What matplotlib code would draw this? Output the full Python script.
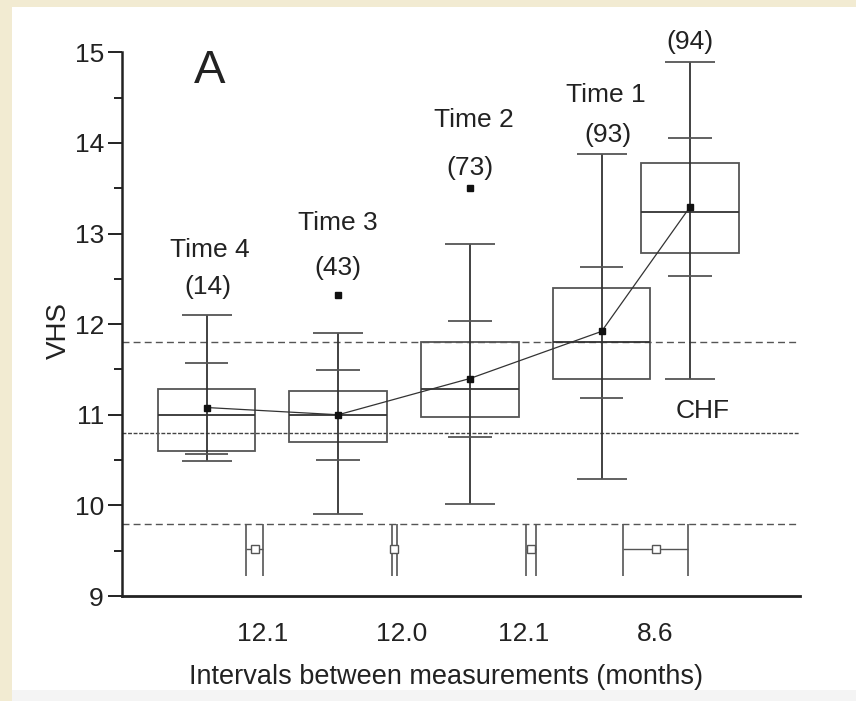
import matplotlib
matplotlib.use("Agg")
import matplotlib.pyplot as plt
from matplotlib.patches import Rectangle
from matplotlib.ticker import MultipleLocator

plt.rcParams['font.family'] = ['Liberation Sans', 'DejaVu Sans']

# ---------------- data ----------------
box_pos   = [1.0, 2.0, 3.0, 4.0, 4.67]
whisk_lo  = [10.49, 9.91, 10.01, 10.29, 11.39]
inner_lo  = [10.57, 10.50, 10.75, 11.18, 12.53]
q1        = [10.60, 10.70, 10.98, 11.39, 12.79]
median    = [11.00, 11.00, 11.28, 11.80, 13.24]
q3        = [11.28, 11.26, 11.80, 12.40, 13.78]
inner_hi  = [11.57, 11.49, 12.04, 12.63, 14.05]
whisk_hi  = [12.10, 11.90, 12.89, 13.88, 14.89]
means     = [11.08, 11.00, 11.40, 11.92, 13.29]
outlier_x = [2.0, 3.0]
outlier_y = [12.32, 13.50]

time_labels = ['Time 4', 'Time 3', 'Time 2', 'Time 1']
n_labels    = ['(14)', '(43)', '(73)', '(93)', '(94)']

interval_center = [1.366, 2.425, 3.464, 4.412]
interval_half   = [0.066, 0.019, 0.039, 0.247]
interval_labels = ['12.1', '12.0', '12.1', '8.6']

ref_lines = [11.8, 10.8, 9.8]

# ---------------- layout ----------------
time_label_x = [1.027, 1.996, 3.03, 4.03]
time_label_y = [12.82, 13.12, 14.25, 14.53]
n_label_x    = [1.01, 2.0, 3.0, 4.05, 4.67]
n_label_y    = [12.41, 12.62, 13.72, 14.09, 15.11]
tick_pos     = [1.425, 2.484, 3.410, 4.405]
interval_y   = 9.52
interval_cap = (9.22, 9.80)

FS = 19
dark = '#222222'

fig = plt.figure(figsize=(8.56, 7.01), dpi=100, facecolor='#f2ebd2')
fig.patches.append(Rectangle((12/856, 0), 1, 694/701, transform=fig.transFigure,
                             facecolor='white', edgecolor='none', zorder=-10))
fig.patches.append(Rectangle((12/856, 0), 1, 11/701, transform=fig.transFigure,
                             facecolor='#f4f4f4', edgecolor='none', zorder=-9))

ax = fig.add_axes([122/856, 105/701, 678/856, 543.7/701])
ax.set_facecolor('none')
ax.set_xlim(0.358, 5.507)
ax.set_ylim(9, 15)

for s in ['top', 'right']:
    ax.spines[s].set_visible(False)
ax.spines['left'].set_linewidth(1.8)
ax.spines['bottom'].set_linewidth(2.0)
ax.spines['left'].set_color(dark)
ax.spines['bottom'].set_color(dark)

# reference dashed lines
ax.axhline(ref_lines[0], color='#555555', lw=1.0, dashes=(5, 3))
ax.axhline(ref_lines[1], color='#444444', lw=1.0, dashes=(2.8, 1.2))
ax.axhline(ref_lines[2], color='#555555', lw=1.0, dashes=(5, 3))

box_w = 0.74
outer_cap = 0.38
inner_cap = 0.33
edge = '#555555'

ax.bar(box_pos, [b - a for a, b in zip(q1, q3)], bottom=q1, width=box_w,
       fill=False, edgecolor=edge, linewidth=1.3, zorder=2)
ax.hlines(median, [p - box_w/2 for p in box_pos], [p + box_w/2 for p in box_pos],
          color='#333333', lw=1.3, zorder=3)
ax.vlines(box_pos, whisk_lo, whisk_hi, color='#333333', lw=1.3, zorder=3)
for vals, w in [(whisk_lo, outer_cap), (whisk_hi, outer_cap),
                (inner_lo, inner_cap), (inner_hi, inner_cap)]:
    ax.hlines(vals, [p - w/2 for p in box_pos], [p + w/2 for p in box_pos],
              color=edge, lw=1.3, zorder=3)

# means and connecting line
ax.plot(box_pos, means, color='#333333', lw=0.9, marker='s', ms=5,
        mfc='#111111', mec='#111111', zorder=4)
# outliers
ax.plot(outlier_x, outlier_y, ls='none', marker='s', ms=4.5,
        mfc='#111111', mec='#111111', zorder=4)

# interval markers
ax.errorbar(interval_center, [interval_y]*len(interval_center), xerr=interval_half,
            fmt='none', ecolor='#555555', elinewidth=1.0, capsize=0, zorder=3)
for c, h in zip(interval_center, interval_half):
    ax.vlines([c - h, c + h], interval_cap[0], interval_cap[1],
              color='#555555', lw=1.2, zorder=3)
ax.plot(interval_center, [interval_y]*len(interval_center), ls='none', marker='s',
        ms=6, mfc='white', mec='#555555', mew=1.0, zorder=4)

# texts
for x, y, t in zip(time_label_x, time_label_y, time_labels):
    ax.text(x, y, t, ha='center', va='center', fontsize=FS, color=dark)
for x, y, t in zip(n_label_x, n_label_y, n_labels):
    ax.text(x, y, t, ha='center', va='center', fontsize=FS, color=dark, clip_on=False)
ax.text(1.027, 14.79, 'A', ha='center', va='center', fontsize=34, color=dark)
ax.text(4.77, 11.04, 'CHF', ha='center', va='center', fontsize=FS, color=dark)

# axes ticks
ax.yaxis.set_major_locator(MultipleLocator(1))
ax.yaxis.set_minor_locator(MultipleLocator(0.5))
ax.tick_params(axis='y', which='major', length=10, width=1.4, color=dark,
               labelsize=FS, labelcolor=dark, pad=3)
ax.tick_params(axis='y', which='minor', length=5.8, width=1.4, color=dark)
ax.set_xticks(tick_pos)
ax.set_xticklabels(interval_labels)
ax.tick_params(axis='x', length=0, labelsize=FS, labelcolor=dark, pad=18.5)

ax.text(-0.0935, 0.489, 'VHS', transform=ax.transAxes, rotation=90,
        ha='center', va='center', fontsize=FS + 1, color=dark)
ax.set_xlabel('Intervals between measurements (months)', fontsize=FS + 0.5, color=dark)
ax.xaxis.set_label_coords(0.478, -0.125)

fig.savefig('out.png', dpi=100, facecolor=fig.get_facecolor())
